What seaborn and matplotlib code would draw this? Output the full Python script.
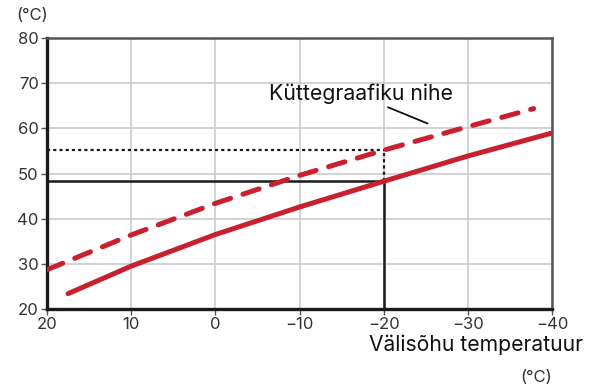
import matplotlib
matplotlib.use("Agg")
import matplotlib.pyplot as plt
import seaborn as sns

sns.set_theme(style="white")
plt.rcParams['font.family'] = ['Inter', 'DejaVu Sans']

# heating curve (solid) and shifted curve (dashed)
outdoor = [17.5, 10, 0, -10, -20, -30, -40]
supply = [23.4, 29.5, 36.5, 42.6, 48.3, 53.9, 59.0]
outdoor_shift = [20, 10, 0, -10, -20, -30, -37.8]
supply_shift = [28.7, 36.4, 43.4, 49.6, 55.2, 60.4, 64.4]

design_out = -20
design_supply = 48.3
design_supply_shift = 55.3

xticks = [20, 10, 0, -10, -20, -30, -40]
yticks = [20, 30, 40, 50, 60, 70, 80]
xtick_labels = ['20', '10', '0', '\u221210', '\u221220', '\u221230', '\u221240']

label_pos = (-17.3, 67.7)
leader_start = (-20.5, 64.7)
leader_end = (-25.2, 61.1)

red = '#c8202f'

fig = plt.figure(figsize=(5.95, 3.88), dpi=100)
ax = fig.add_axes([0.079, 0.2036, 0.849, 0.698])

ax.set_xlim(20, -40)
ax.set_ylim(20, 80)
ax.set_xticks(xticks)
ax.set_xticklabels(xtick_labels)
ax.set_yticks(yticks)
ax.grid(True, color='#c8c8c8', lw=1.1)
ax.set_axisbelow(True)

# helper lines at design temperature
ax.plot([20, design_out], [design_supply, design_supply], color='#1a1a1a', lw=1.8, zorder=3)
ax.plot([design_out, design_out], [20, design_supply], color='#1a1a1a', lw=1.8, zorder=3)
ax.plot([20, design_out], [design_supply_shift, design_supply_shift], color='#1a1a1a',
        lw=1.6, ls=(0, (1.4, 1.4)), zorder=3)
ax.plot([design_out, design_out], [design_supply, design_supply_shift], color='#1a1a1a',
        lw=1.6, ls=(0, (1.4, 1.4)), zorder=3)

sns.lineplot(x=outdoor, y=supply, ax=ax, color=red, lw=3.6, sort=False,
             solid_capstyle='round', zorder=4)
sns.lineplot(x=outdoor_shift, y=supply_shift, ax=ax, color=red, lw=3.6, sort=False,
             dashes=False, zorder=4)
ax.lines[-1].set_linestyle((0, (3.4, 2.6)))
ax.lines[-1].set_dash_capstyle('round')

for side in ['left', 'bottom']:
    ax.spines[side].set_color('#1a1a1a')
    ax.spines[side].set_linewidth(2.4)
for side in ['top', 'right']:
    ax.spines[side].set_color('#555555')
    ax.spines[side].set_linewidth(1.8)

ax.tick_params(axis='both', length=4, width=1, color='#555555', labelcolor='#333333',
               labelsize=12, pad=2, left=True, bottom=True)

ax.text(label_pos[0], label_pos[1], 'K\u00fcttegraafiku nihe', fontsize=15.3,
        color='#111111', ha='center', va='center')
ax.annotate('', xy=leader_end, xytext=leader_start,
            arrowprops=dict(arrowstyle='-', color='#111111', lw=1.3,
                            shrinkA=0, shrinkB=0))

fig.text(16 / 595, 1 - 15 / 388, '(\u00b0C)', fontsize=12, color='#333333', va='center', ha='left')
fig.text(583 / 595, 1 - 345 / 388, 'V\u00e4lis\u00f5hu temperatuur', fontsize=15.2,
         color='#111111', va='center', ha='right')
fig.text(552 / 595, 1 - 377 / 388, '(\u00b0C)', fontsize=12, color='#333333', va='center', ha='right')

ax.set_xlabel('')
ax.set_ylabel('')
fig.savefig('out.png', dpi=100, facecolor='white')
